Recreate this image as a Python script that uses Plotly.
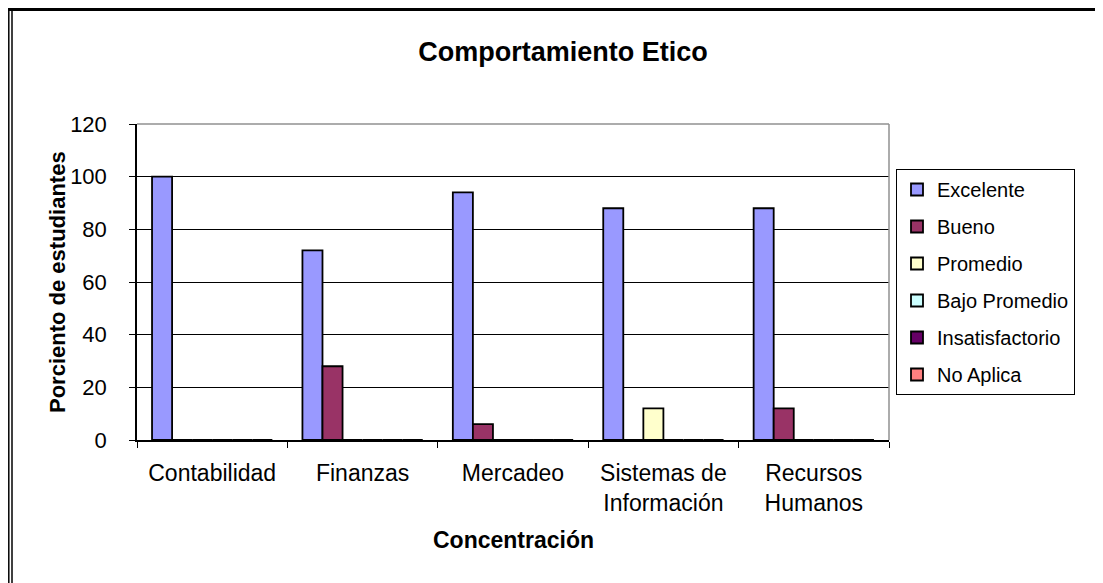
import plotly.graph_objects as go

# data
categorias = ["Contabilidad", "Finanzas", "Mercadeo", "Sistemas de<br>Información", "Recursos<br>Humanos"]
excelente = [100, 72, 94, 88, 88]
bueno = [0, 28, 6, 0, 12]
promedio = [0, 0, 0, 12, 0]
bajo_promedio = [0, 0, 0, 0, 0]
insatisfactorio = [0, 0, 0, 0, 0]
no_aplica = [0, 0, 0, 0, 0]

series = [
    ("Excelente", excelente, "#9999FF"),
    ("Bueno", bueno, "#993366"),
    ("Promedio", promedio, "#FFFFCC"),
    ("Bajo Promedio", bajo_promedio, "#CCFFFF"),
    ("Insatisfactorio", insatisfactorio, "#660066"),
    ("No Aplica", no_aplica, "#FF8080"),
]

W, H = 1103, 583
OFF = 8  # page body margin
L, R, T, B = 137 - OFF, 889 - OFF, 124 - OFF, 440 - OFF


def px_x(p):
    return (p - OFF - L) / (R - L)


def px_y(p):
    return (B - (p - OFF)) / (B - T)


fig = go.Figure()
for name, vals, col in series:
    fig.add_trace(go.Bar(
        x=categorias, y=vals, name=name, legendgroup=name,
        marker=dict(color=col, line=dict(color="black", width=1.8)),
    ))

fig.update_layout(
    width=W, height=H,
    margin=dict(l=L, r=W - R, t=T, b=H - B),
    paper_bgcolor="white", plot_bgcolor="white",
    font=dict(family="Liberation Sans, Arial", size=20, color="black"),
    barmode="group", bargap=0.2, bargroupgap=0,
    title=dict(text="<b>Comportamiento Etico</b>", x=px_x(563), xref="paper",
               xanchor="center", y=1 - (52 - OFF) / H, yanchor="middle",
               font=dict(size=27)),
    legend=dict(x=px_x(896), y=px_y(169), xanchor="left", yanchor="top",
                bordercolor="black", borderwidth=1, bgcolor="white",
                traceorder="grouped", tracegroupgap=8,
                font=dict(size=20), itemwidth=30),
    showlegend=True,
)

fig.update_xaxes(
    showline=True, linecolor="black", linewidth=1.5, mirror=False,
    ticks="outside", tickson="boundaries", ticklen=6, tickcolor="black",
    tickfont=dict(size=23), ticklabelstandoff=12,
)
fig.update_yaxes(
    range=[0, 120], dtick=20, showgrid=True, gridcolor="black", gridwidth=1,
    showline=True, linecolor="black", linewidth=1.5,
    ticks="outside", ticklen=6, tickcolor="black", tickfont=dict(size=22),
    ticklabelstandoff=18, zeroline=False,
)

# axis titles
fig.add_annotation(text="<b>Porciento de estudiantes</b>", xref="paper", yref="paper",
                   x=px_x(57), y=px_y(282), textangle=-90, showarrow=False,
                   font=dict(size=22), xanchor="center", yanchor="middle")
fig.add_annotation(text="<b>Concentración</b>", xref="paper", yref="paper",
                   x=px_x(513), y=px_y(540), showarrow=False,
                   font=dict(size=23), xanchor="center", yanchor="middle")

# grey plot-area border on top and right
fig.add_shape(type="line", xref="paper", yref="paper", x0=0, x1=1, y0=1, y1=1,
              line=dict(color="#909090", width=1.5))
fig.add_shape(type="line", xref="paper", yref="paper", x0=1, x1=1, y0=0, y1=1,
              line=dict(color="#909090", width=1.5))

# outer chart frame (double left border, top border)
fig.add_shape(type="line", xref="paper", yref="paper", x0=px_x(8), x1=px_x(W + 20),
              y0=px_y(9.5), y1=px_y(9.5), line=dict(color="black", width=3))
fig.add_shape(type="line", xref="paper", yref="paper", x0=px_x(8.8), x1=px_x(8.8),
              y0=px_y(8), y1=px_y(H + 20), line=dict(color="black", width=1.5))
fig.add_shape(type="line", xref="paper", yref="paper", x0=px_x(12), x1=px_x(12),
              y0=px_y(9.5), y1=px_y(H + 20), line=dict(color="black", width=1.5))

fig.write_html("out.html")
